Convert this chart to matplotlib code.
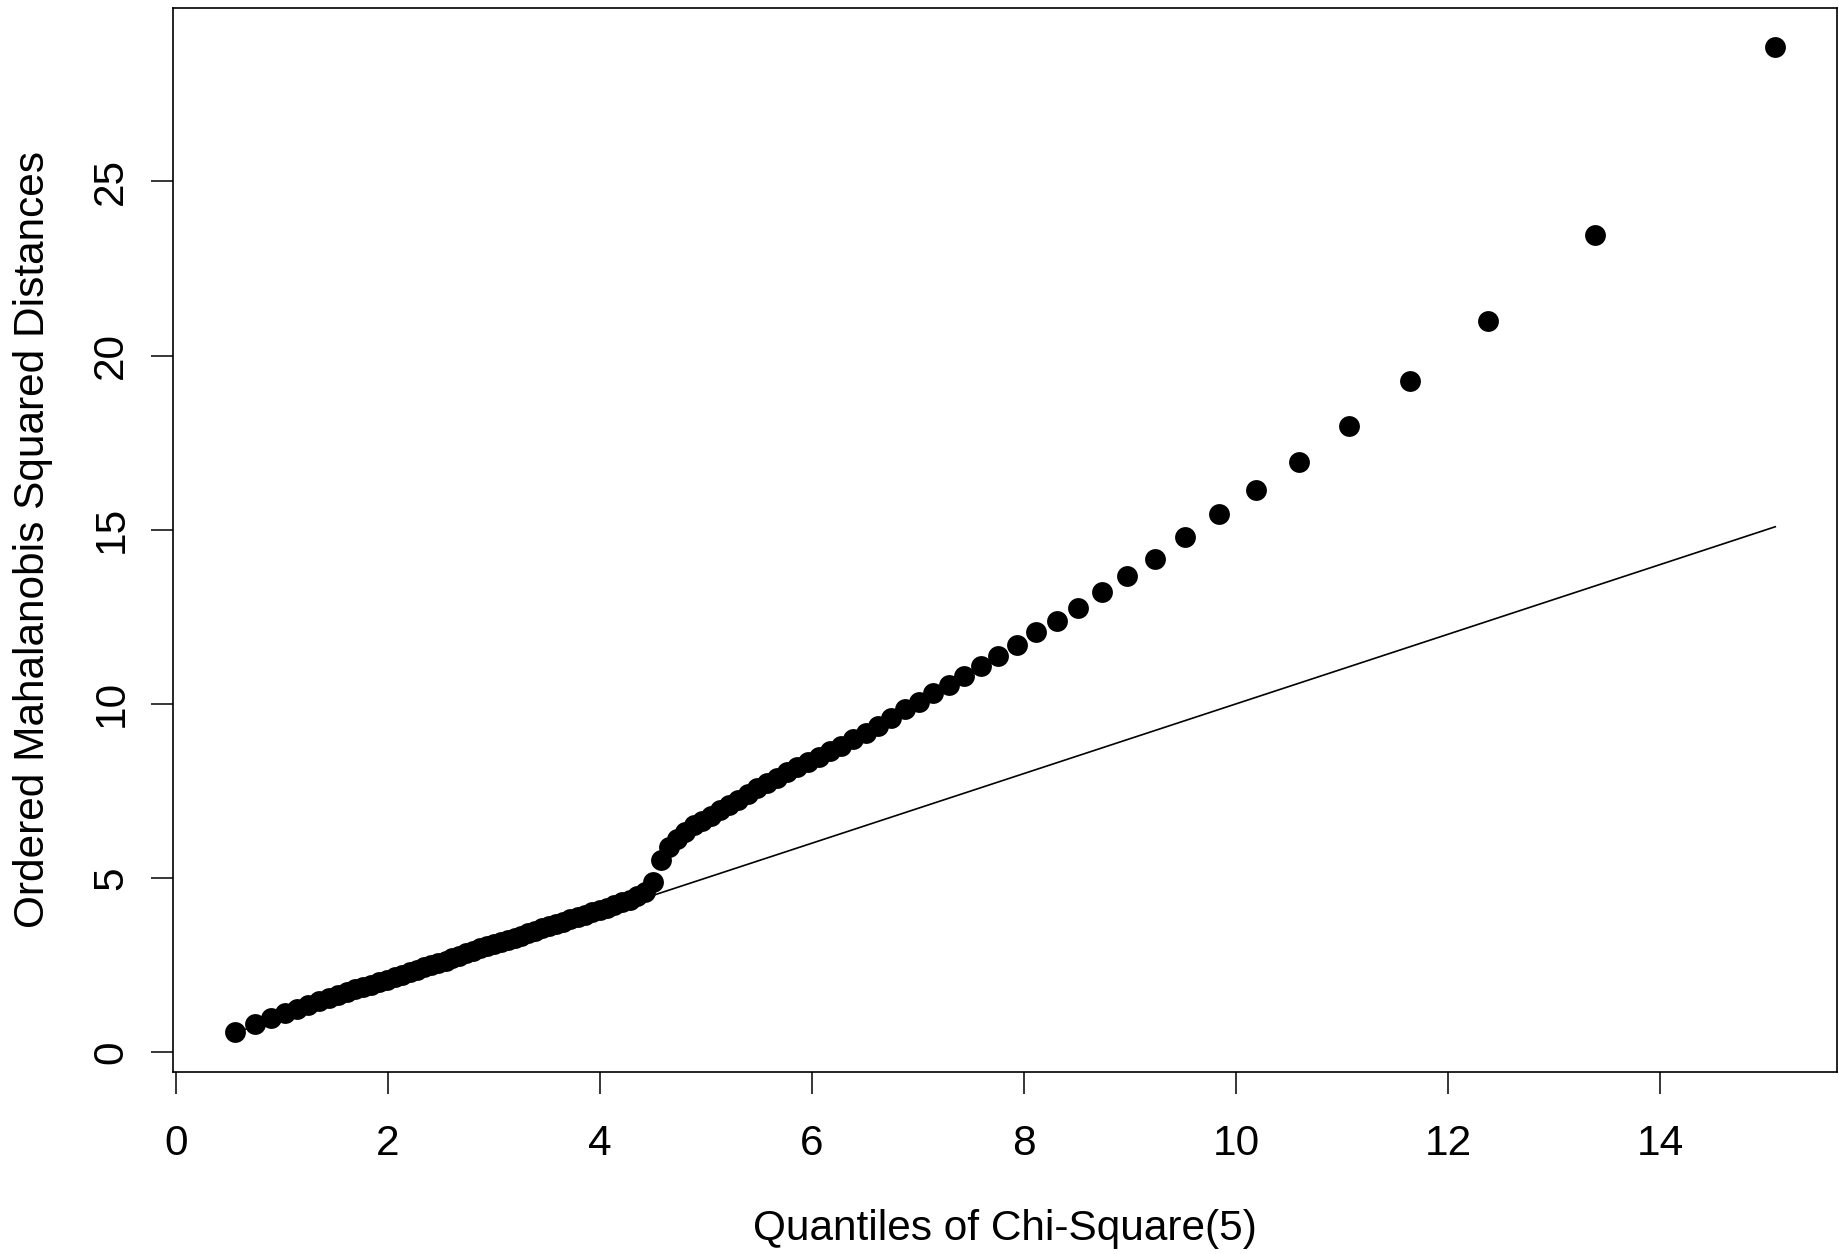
import matplotlib
matplotlib.use('Agg')
import matplotlib.pyplot as plt

plt.rcParams['font.family'] = ['Liberation Sans', 'DejaVu Sans']

FIG_DPI = 100
FONT_SIZE = 30.5

# quantiles of chi-square(5) at p = 0.01 ... 0.99
chisq_q = [
    0.554, 0.750, 0.902, 1.030, 1.145, 1.251, 1.349, 1.441, 1.527, 1.610,
    1.689, 1.767, 1.844, 1.920, 1.993, 2.065, 2.136, 2.205, 2.275, 2.343,
    2.411, 2.477, 2.544, 2.609, 2.675, 2.741, 2.806, 2.871, 2.936, 3.000,
    3.065, 3.130, 3.195, 3.260, 3.325, 3.390, 3.456, 3.522, 3.589, 3.655,
    3.722, 3.790, 3.858, 3.927, 3.996, 4.066, 4.136, 4.206, 4.279, 4.351,
    4.423, 4.498, 4.574, 4.650, 4.728, 4.806, 4.886, 4.967, 5.048, 5.132,
    5.217, 5.304, 5.392, 5.482, 5.572, 5.666, 5.762, 5.860, 5.961, 6.064,
    6.170, 6.278, 6.390, 6.506, 6.626, 6.749, 6.876, 7.009, 7.146, 7.289,
    7.438, 7.594, 7.758, 7.931, 8.114, 8.307, 8.514, 8.736, 8.975, 9.236,
    9.520, 9.835, 10.190, 10.595, 11.070, 11.643, 12.374, 13.388, 15.086,
]

# ordered Mahalanobis squared distances
md2 = [
    0.57, 0.81, 0.97, 1.12, 1.25, 1.36, 1.47, 1.56, 1.64, 1.72,
    1.80, 1.87, 1.94, 2.01, 2.08, 2.15, 2.22, 2.29, 2.36, 2.43,
    2.50, 2.57, 2.63, 2.70, 2.77, 2.84, 2.91, 2.98, 3.04, 3.10,
    3.16, 3.22, 3.28, 3.34, 3.41, 3.48, 3.55, 3.61, 3.68, 3.74,
    3.81, 3.88, 3.94, 4.01, 4.08, 4.15, 4.22, 4.30, 4.38, 4.47,
    4.60, 4.88, 5.52, 5.89, 6.12, 6.32, 6.51, 6.65, 6.79, 6.94,
    7.10, 7.25, 7.41, 7.58, 7.72, 7.87, 8.03, 8.18, 8.33, 8.48,
    8.64, 8.79, 8.98, 9.17, 9.37, 9.58, 9.84, 10.06, 10.31, 10.55,
    10.81, 11.08, 11.38, 11.69, 12.05, 12.38, 12.76, 13.20, 13.66, 14.17,
    14.79, 15.45, 16.13, 16.95, 17.98, 19.27, 20.98, 23.47, 28.85,
]

x_ticks = [0, 2, 4, 6, 8, 10, 12, 14]
y_ticks = [0, 5, 10, 15, 20, 25]


def r_range(vals, frac=0.04):
    # R style axis range: data range padded by 4% on each side
    lo, hi = min(vals), max(vals)
    pad = (hi - lo) * frac
    return lo - pad, hi + pad


fig = plt.figure(figsize=(1840 / FIG_DPI, 1254 / FIG_DPI), dpi=FIG_DPI)
ax = fig.add_axes([0.094, 0.1454, 0.9043, 0.8482])

ax.plot(chisq_q, md2, linestyle='none', marker='o', markersize=15,
        markeredgewidth=0, color='black', zorder=3)
# reference line y = x
ax.plot(chisq_q, chisq_q, color='black', linewidth=1.2, zorder=2)

ax.set_xlim(*r_range(chisq_q))
ax.set_ylim(*r_range(md2))

ax.set_xticks(x_ticks)
ax.set_xticklabels([str(t) for t in x_ticks], fontsize=FONT_SIZE)
ax.set_yticks(y_ticks)
ax.set_yticklabels([str(t) for t in y_ticks], fontsize=FONT_SIZE,
                   rotation=90, va='center')
ax.tick_params(axis='both', direction='out', length=16, width=1.1)
ax.tick_params(axis='x', pad=22)
ax.tick_params(axis='y', pad=14)

for s in ax.spines.values():
    s.set_linewidth(1.2)

ax.set_xlabel('Quantiles of Chi-Square(5)', fontsize=FONT_SIZE, va='center')
ax.xaxis.set_label_coords(0.5, -0.148)
ax.set_ylabel('Ordered Mahalanobis Squared Distances', fontsize=FONT_SIZE,
              va='center')
ax.yaxis.set_label_coords(-0.0841, 0.5)

fig.savefig('out.png', dpi=FIG_DPI)
